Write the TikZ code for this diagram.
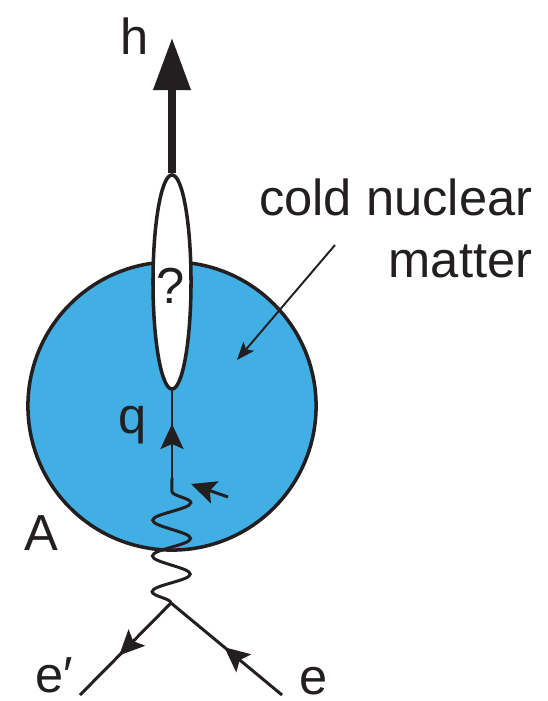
\documentclass[tikz,border=0pt]{standalone}
\usepackage{fontspec}
\setmainfont{Liberation Sans}
\usetikzlibrary{arrows.meta, positioning, shapes.geometric,
                decorations.pathmorphing, decorations.markings}
\definecolor{nuclblue}{RGB}{65,174,228}
\definecolor{ink}{RGB}{35,31,32}

\begin{document}
\begin{tikzpicture}[
    x=0.01cm, y=-0.01cm,
    every node/.style={font=\fontsize{14.4}{17.9}\selectfont, text=ink, inner sep=0pt},
    nucleus/.style={circle, draw=ink, line width=1pt, fill=nuclblue,
                    minimum size=2.88cm},
    blob/.style={ellipse, draw=ink, line width=1pt, fill=white,
                 minimum width=0.38cm, minimum height=2.14cm},
    lbl/.style={anchor=base},
    hadron/.style={-{Triangle[length=5.2mm, width=3.6mm]}, line width=2pt, draw=ink},
    fermion/.style={draw=ink, line width=0.85pt, postaction={decorate},
                    decoration={markings, mark=at position #1 with
                    {\arrow{Stealth[length=2.5mm, width=2.3mm, inset=0.5mm]}}}},
    photon/.style={draw=ink, line width=0.85pt, decorate,
                   decoration={snake, amplitude=1.9mm, segment length=3.57mm}},
    kick/.style={-{Stealth[length=2.5mm, width=2.3mm, inset=0.5mm]},
                 draw=ink, line width=0.85pt},
    pointer/.style={-{Stealth[length=1.8mm, width=1.4mm, inset=0.4mm]},
                    draw=ink, line width=0.55pt},
]
\useasboundingbox (0,0) rectangle (547,701);

%% Nucleus and the hadronisation blob
\node[nucleus] (nucleus) at (172,406) {};
\node[blob]    (blob)    at (172,282) {};
\node[lbl]     (qmark)   at (171,304) {?};

%% Vertex points
\coordinate (htip)  at (172,38);
\coordinate (qv)    at (172,478);
\coordinate (vtx)   at (171,603);
\coordinate (eout)  at (80,695);
\coordinate (ein)   at (282,695);
\coordinate (ktail) at (228,497);
\coordinate (khead) at (191,484);
\coordinate (ptail) at (335,245);
\coordinate (phead) at (237,360);

%% Lines
\draw[hadron]       (blob.north) -- (htip);
\draw[fermion=0.62] (qv) -- (blob.south);
\draw[photon]       (vtx) -- (qv);
\draw[fermion=0.57] (vtx) -- (eout);
\draw[fermion=0.52] (ein) -- (vtx);
\draw[kick]         (ktail) -- (khead);
\draw[pointer]      (ptail) -- (phead);

%% Labels
\node[lbl] (hlab) at (134.5,55) {h};
\node[lbl] (qlab) at (133,434)  {q};
\node[lbl] (alab) at (41,550)   {A};
\node[anchor=base west] (eplab) at (35,692) {e′};
\node[lbl] (elab) at (314,694)  {e};
\node[anchor=base east, align=right] (cnm) at (533,278) {cold nuclear\\matter};

\end{tikzpicture}
\end{document}
